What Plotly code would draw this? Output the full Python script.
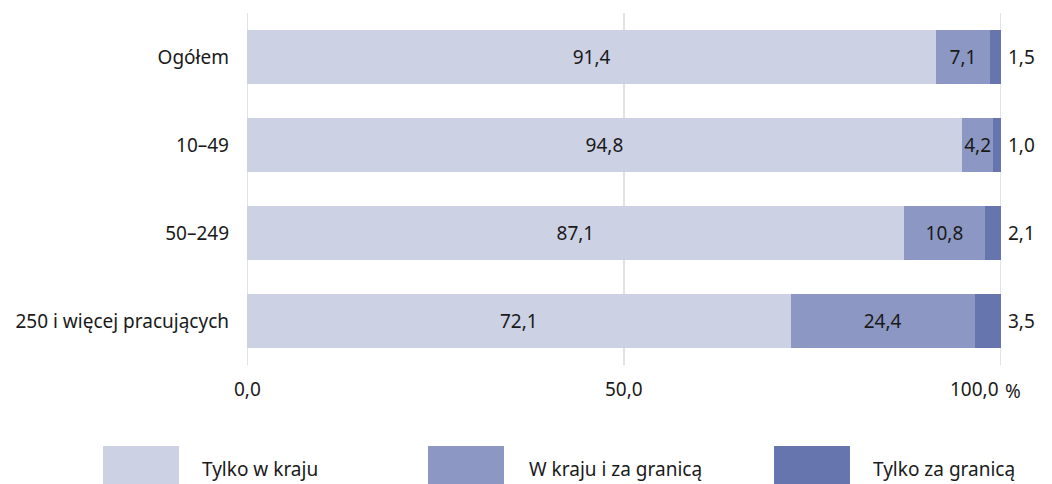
import plotly.graph_objects as go

categories = ["Ogółem", "10–49", "50–249", "250 i więcej pracujących"]
series_names = ["Tylko w kraju", "W kraju i za granicą", "Tylko za granicą"]
tylko_w_kraju = [91.4, 94.8, 87.1, 72.1]
w_kraju_i_za_granica = [7.1, 4.2, 10.8, 24.4]
tylko_za_granica = [1.5, 1.0, 2.1, 3.5]
x_ticks = [0, 50, 100]
x_tick_labels = ["0,0", "50,0", "100,0"]

colors = ["#ccd1e4", "#8c98c3", "#6675ad"]
font_family = "Noto Sans, Open Sans, sans-serif"
txt_color = "#1a1a1a"
grid_color = "#d9d9d9"
FS = 19

def fmt(v):
    return f"{v:.1f}".replace(".", ",")

# page body has an 8px margin; figure coordinates are shifted accordingly
W, H = 1052, 484
L, T, PW, PH = 239, 5, 754, 352

def px(ref_x):
    return (ref_x - 247) / PW

def py(ref_y):
    return (365 - ref_y) / PH

fig = go.Figure()
all_series = [tylko_w_kraju, w_kraju_i_za_granica, tylko_za_granica]
for i, (name, vals) in enumerate(zip(series_names, all_series)):
    fig.add_trace(go.Bar(
        y=categories, x=vals, name=name, orientation="h",
        marker=dict(color=colors[i], line=dict(width=0)),
        text=[fmt(v) for v in vals] if i < 2 else None,
        textposition="inside" if i < 2 else "none",
        insidetextanchor="middle",
        textangle=0,
        constraintext="none",
        textfont=dict(color=txt_color, size=FS, family=font_family),
        hoverinfo="x+y+name",
        showlegend=False,
    ))

# gridlines at every tick (including the range edges)
for v in x_ticks:
    fig.add_shape(type="line", xref="x", yref="paper", x0=v, x1=v, y0=0, y1=1,
                  line=dict(color=grid_color, width=1.5), layer="below")

# outside labels for last series (right of the 100 line)
for cat, c in zip(categories, tylko_za_granica):
    fig.add_annotation(x=100, y=cat, text=fmt(c), showarrow=False, xanchor="left",
                       xshift=5, font=dict(color=txt_color, size=FS, family=font_family))

# x tick labels
for v, lab in zip(x_ticks, x_tick_labels):
    fig.add_annotation(x=v, y=py(389), xref="x", yref="paper", text=lab, showarrow=False,
                       xanchor="right" if v == 100 else "center", yanchor="middle",
                       font=dict(color=txt_color, size=FS, family=font_family))

# percent sign
fig.add_annotation(x=px(1013), y=py(391), xref="paper", yref="paper", text="%",
                   showarrow=False, xanchor="center", yanchor="middle",
                   font=dict(color=txt_color, size=FS, family=font_family))

# custom legend
leg_x = [103, 428, 774]
leg_tx = [200, 527, 871]
for i, name in enumerate(series_names):
    fig.add_shape(type="rect", xref="paper", yref="paper",
                  x0=px(leg_x[i]), x1=px(leg_x[i] + 76),
                  y0=py(492), y1=py(446),
                  fillcolor=colors[i], line=dict(width=0))
    fig.add_annotation(xref="paper", yref="paper",
                       x=px(leg_tx[i]), y=py(469),
                       text=name, showarrow=False, xanchor="left", yanchor="middle",
                       font=dict(color=txt_color, size=FS, family=font_family))

fig.update_layout(
    barmode="stack",
    width=W, height=H,
    margin=dict(l=L, r=W - L - PW, t=T, b=H - T - PH, pad=0),
    paper_bgcolor="white", plot_bgcolor="white",
    font=dict(family=font_family, size=FS, color=txt_color),
    bargap=0.386,
    xaxis=dict(range=[0, 100], tickvals=x_ticks, showticklabels=False,
               showgrid=False, zeroline=False,
               showline=False, ticks="", fixedrange=True),
    yaxis=dict(categoryorder="array", categoryarray=categories, autorange="reversed",
               showgrid=False, ticks="", ticklabelstandoff=17, showline=False,
               tickfont=dict(size=FS, color=txt_color, family=font_family)),
    showlegend=False,
)

fig.write_html("out.html")
